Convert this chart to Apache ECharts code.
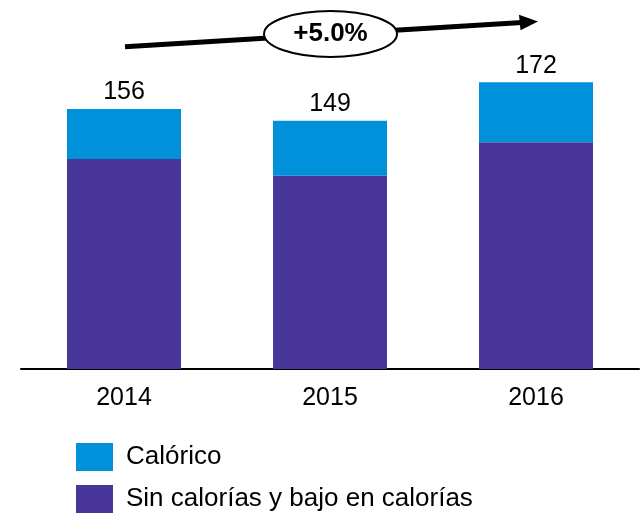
<!DOCTYPE html>
<html>
<head>
<meta charset="utf-8">
<script src="https://cdn.jsdelivr.net/npm/echarts@6/dist/echarts.min.js"></script>
<style>
html,body{margin:0;padding:0;background:#fff;}
#chart{width:642px;height:517px;}
</style>
</head>
<body>
<div id="chart"></div>
<script>
const categories = ['2014', '2015', '2016'];
const sinCalorias = [126, 116, 136];
const calorico = [30, 33, 36];
const seriesNames = ['Calórico', 'Sin calorías y bajo en calorías'];
const growthLabel = '+5.0%';

const totals = categories.map((c, i) => sinCalorias[i] + calorico[i]);
const FONT = '"Liberation Sans", Arial, sans-serif';

const chart = echarts.init(document.getElementById('chart'), null, {renderer: 'canvas'});
chart.setOption({
  animation: false,
  backgroundColor: '#ffffff',
  grid: {left: 21, right: 3, top: 69, bottom: 148, containLabel: false},
  legend: {
    orient: 'vertical',
    left: 76,
    top: 443,
    padding: 0,
    itemWidth: 37,
    itemHeight: 28,
    itemGap: 14,
    icon: 'rect',
    data: [seriesNames[0], seriesNames[1]],
    textStyle: {fontSize: 26, color: '#000', fontFamily: FONT, padding: [0, 0, 0, 8]}
  },
  xAxis: {
    type: 'category',
    data: categories,
    axisLine: {show: true, lineStyle: {color: '#000', width: 2}},
    axisTick: {show: false},
    axisLabel: {fontSize: 25, color: '#000', fontFamily: FONT, margin: 17}
  },
  yAxis: {type: 'value', min: 0, max: 180, show: false, splitLine: {show: false}},
  series: [
    {
      name: seriesNames[1],
      type: 'bar',
      stack: 'total',
      barWidth: 114,
      itemStyle: {color: '#483698'},
      data: sinCalorias
    },
    {
      name: seriesNames[0],
      type: 'bar',
      stack: 'total',
      barWidth: 114,
      itemStyle: {color: '#0091DA'},
      label: {
        show: true,
        position: 'top',
        distance: 4,
        fontSize: 25,
        color: '#000',
        fontFamily: FONT,
        formatter: p => String(totals[p.dataIndex])
      },
      data: calorico
    }
  ],
  graphic: [
    {type: 'line', shape: {x1: 125, y1: 46.7, x2: 522, y2: 22.6}, style: {stroke: '#000', lineWidth: 5}, z: 10},
    {type: 'polygon', shape: {points: [[538, 21.6], [519, 14.8], [520.5, 30.2]]}, style: {fill: '#000'}, z: 11},
    {type: 'ellipse', shape: {cx: 330.5, cy: 34, rx: 66.5, ry: 23}, style: {fill: '#fff', stroke: '#000', lineWidth: 2}, z: 12},
    {type: 'text', x: 330.5, y: 34, style: {text: growthLabel, fontSize: 26, fontWeight: 'bold', fill: '#000', fontFamily: FONT, textAlign: 'center', textVerticalAlign: 'middle'}, z: 13}
  ]
});
</script>
</body>
</html>
